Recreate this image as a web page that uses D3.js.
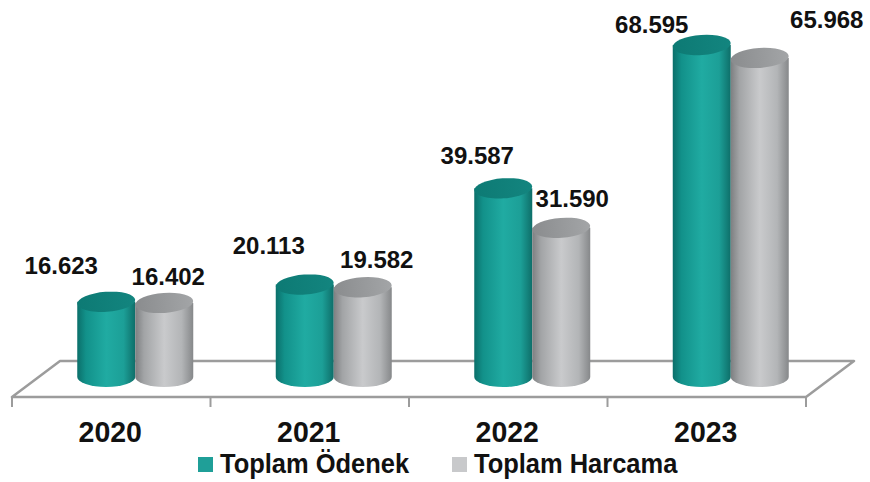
<!DOCTYPE html>
<html>
<head>
<meta charset="utf-8">
<script src="https://cdn.jsdelivr.net/npm/d3@7"></script>
<style>
  body { margin: 0; background: #fff; }
  svg { display: block; font-family: "Liberation Sans", Arial, sans-serif; }
</style>
</head>
<body>
<svg id="chart" width="870" height="482"></svg>
<script>
// Chart data
const years = ['2020', '2021', '2022', '2023'];
const seriesNames = ['Toplam Ödenek', 'Toplam Harcama'];
const odenek = [16.623, 20.113, 39.587, 68.595];
const harcama = [16.402, 19.582, 31.590, 65.968];
const valueLabels = [
    ['16.623', '20.113', '39.587', '68.595'],
    ['16.402', '19.582', '31.590', '65.968']
];

// Layout: label nudges (dx, dy) relative to the cylinder top, per series
const labelNudge = [
    [[-45, -28], [-36, -31], [-26, -24], [-50, -12]],
    [[4, -18], [14, -19], [11, -21], [67, -30]]
];

const svg = d3.select('#chart');
const defs = svg.append('defs');

// Floor geometry
const floorFront = 397, depthX = 48, depthY = 36;
const x = d3.scaleBand().domain(years).range([12, 806]).padding(0);
const y = d3.scaleLinear().domain([0, 70]).range([384, 38]);
const baseY = 377;
const r = 29, ry = 10;

// Gradients
function bodyGradient(id, stops) {
    const g = defs.append('linearGradient').attr('id', id)
        .attr('x1', '0%').attr('x2', '100%').attr('y1', '0%').attr('y2', '0%');
    stops.forEach(s => g.append('stop').attr('offset', s[0]).attr('stop-color', s[1]));
}
bodyGradient('tealBody', [['0%', '#0b6f6a'], ['15%', '#12918a'], ['50%', '#20aba2'], ['80%', '#1c9f97'], ['100%', '#0e6e69']]);
bodyGradient('grayBody', [['0%', '#7d7f81'], ['15%', '#a2a4a6'], ['50%', '#c9cacc'], ['80%', '#b3b5b7'], ['100%', '#86888a']]);
bodyGradient('tealTop', [['0%', '#0d7a74'], ['100%', '#13857f']]);
bodyGradient('grayTop', [['0%', '#8a8c8e'], ['100%', '#a3a5a7']]);

const colors = [
    { body: 'url(#tealBody)', top: 'url(#tealTop)', legend: '#1f9f98' },
    { body: 'url(#grayBody)', top: 'url(#grayTop)', legend: '#c8c9cb' }
];

// Floor
const floor = svg.append('g');
floor.append('path')
    .attr('d', `M${x.range()[0]},${floorFront} L${x.range()[1]},${floorFront} L${x.range()[1] + depthX},${floorFront - depthY} L${x.range()[0] + depthX},${floorFront - depthY} Z`)
    .attr('fill', '#fff')
    .attr('stroke', '#9c9c9c')
    .attr('stroke-width', 2.5)
    .attr('stroke-linejoin', 'round');

// Ticks
const tickPos = years.map(d => x(d)).concat([x.range()[1]]);
floor.selectAll('.tick')
    .data(tickPos)
    .enter()
    .append('line')
    .attr('x1', d => d).attr('x2', d => d)
    .attr('y1', floorFront).attr('y2', floorFront + 10)
    .attr('stroke', '#9c9c9c')
    .attr('stroke-width', 2);

// Cylinders
const series = [odenek, harcama];
const bars = svg.append('g');
series.forEach((vals, s) => {
    vals.forEach((v, i) => {
        const groupCenter = x(years[i]) + x.bandwidth() / 2 + depthX / 2;
        const cx = groupCenter + (s === 0 ? -29 : 29);
        const yt = y(v);
        const g = bars.append('g');
        g.append('path')
            .attr('d', `M${cx - r},${yt} L${cx - r},${baseY} A${r},${ry} 0 0 0 ${cx + r},${baseY} L${cx + r},${yt} Z`)
            .attr('fill', colors[s].body);
        g.append('ellipse')
            .attr('cx', cx).attr('cy', yt)
            .attr('rx', r).attr('ry', ry)
            .attr('transform', `rotate(-4, ${cx}, ${yt})`)
            .attr('fill', colors[s].top);

        const nudge = labelNudge[s][i];
        svg.append('text')
            .attr('x', cx + nudge[0])
            .attr('y', yt + nudge[1])
            .attr('text-anchor', 'middle')
            .style('font-size', '24px')
            .style('font-weight', '700')
            .style('fill', '#111')
            .text(valueLabels[s][i]);
    });
});

// Year labels
svg.selectAll('.year')
    .data(years)
    .enter()
    .append('text')
    .attr('transform', d => `translate(${x(d) + x.bandwidth() / 2 - 1},442) scale(0.95,1)`)
    .attr('text-anchor', 'middle')
    .style('font-size', '30px')
    .style('font-weight', '700')
    .style('fill', '#111')
    .text(d => d);

// Legend
const legend = svg.append('g');
const legendX = [198, 452];
seriesNames.forEach((name, s) => {
    legend.append('rect')
        .attr('x', legendX[s]).attr('y', 457)
        .attr('width', 15).attr('height', 15)
        .attr('fill', colors[s].legend);
    legend.append('text')
        .attr('transform', `translate(${legendX[s] + 22},473) scale(0.91,1)`)
        .style('font-size', '28px')
        .style('font-weight', '700')
        .style('fill', '#111')
        .text(name);
});
</script>
</body>
</html>
